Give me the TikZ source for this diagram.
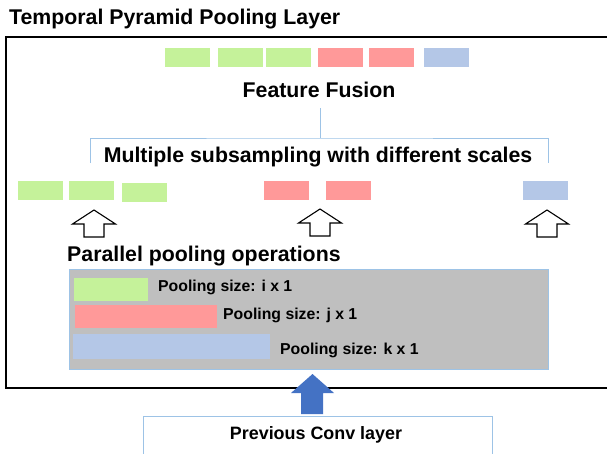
\documentclass[tikz,border=0pt]{standalone}
\usepackage{fontspec}
\setmainfont{Liberation Sans}
\usetikzlibrary{positioning}

\definecolor{poolgreen}{RGB}{197,242,154}
\definecolor{poolred}{RGB}{255,153,153}
\definecolor{poolblue}{RGB}{180,199,231}
\definecolor{linkblue}{RGB}{157,195,230}
\definecolor{arrowblue}{RGB}{68,114,196}
\definecolor{panelgray}{RGB}{191,191,191}

\tikzset{
  bar/.style={inner sep=0pt, minimum width=45pt, minimum height=19pt},
  label/.style={inner sep=0pt, font=\bfseries\fontsize{21.3}{24}\selectfont},
  small/.style={inner sep=0pt, anchor=west, font=\bfseries\fontsize{15.8}{18}\selectfont},
}

\begin{document}
\begin{tikzpicture}[x=1pt, y=-1pt]
        % pixel grid of the reference, y running down
        \useasboundingbox (0,0) rectangle (607,453);

        \node[label, anchor=west] (title) at (9,19.5) {Temporal Pyramid Pooling Layer};
        \draw[line width=1.6pt] (6,37) rectangle (612,388);

        % fused features
        \node[bar, fill=poolgreen] (f1) at (187.5,57.5) {};
        \node[bar, fill=poolgreen] (f2) at (240,57.5) {};
        \node[bar, fill=poolgreen] (f3) at (288,57.5) {};
        \node[bar, fill=poolred] (f4) at (340,57.5) {};
        \node[bar, fill=poolred] (f5) at (391.5,57.5) {};
        \node[bar, fill=poolblue] (f6) at (446.5,57.5) {};
        \node[label] (fusion) at (319,90) {Feature Fusion};

        % bracket
        \coordinate (bl) at (90,163);
        \coordinate (br) at (548,163);
        \coordinate (bm) at (320,138);
        \draw[linkblue, line width=1pt] (320,108) -- (bm);
        \draw[linkblue, line width=1pt] (bl) |- (bm) -| (br);
        \node[label] (multi) at (318,157) {Multiple subsampling with different scales};

        % subsampled features
        \node[bar, fill=poolgreen] (s1) at (40,190) {};
        \node[bar, fill=poolgreen] (s2) at (91,190) {};
        \node[bar, fill=poolgreen] (s3) at (144.5,192) {};
        \node[bar, fill=poolred] (s4) at (286,190) {};
        \node[bar, fill=poolred] (s5) at (348.5,190) {};
        \node[bar, fill=poolblue] (s6) at (545,190) {};

        % hollow arrows
        \foreach \cx/\ty in {94/210, 320/209, 547/210}
          \draw[line width=1.1pt, fill=white] (\cx,\ty) -- (\cx+21.5,\ty+14) -- (\cx+10,\ty+14)
            -- (\cx+10,\ty+27) -- (\cx-10,\ty+27) -- (\cx-10,\ty+14) -- (\cx-21.5,\ty+14) -- cycle;

        \node[label, anchor=west] (parallel) at (67,256) {Parallel pooling operations};

        % pooling panel
        \draw[linkblue, fill=panelgray, line width=0.8pt] (69,269) rectangle (548,369);
        \node[bar, fill=poolgreen, minimum width=74pt, minimum height=23pt, anchor=west] (pi) at (73.5,289) {};
        \node[bar, fill=poolred, minimum width=142pt, minimum height=23pt, anchor=west] (pj) at (75,316.5) {};
        \node[bar, fill=poolblue, minimum width=197pt, minimum height=25pt, anchor=west] (pk) at (73,346.5) {};
        \node[small] (ti) at (158,287) {Pooling size: i x 1};
        \node[small] (tj) at (223,315) {Pooling size: j x 1};
        \node[small] (tk) at (280,350) {Pooling size: k x 1};

        % input
        \draw[linkblue, line width=1pt, fill=white] (143,416) rectangle (492,460);
        \node[inner sep=0pt, font=\bfseries\fontsize{17.9}{20}\selectfont] (conv) at (316,435) {Previous Conv layer};
        \coordinate (tip) at (312.5,374);
        \fill[arrowblue] (tip) -- (334,393) -- (323,393) -- (323,414) -- (301,414) -- (301,393) -- (291,393) -- cycle;

    \end{tikzpicture}
\end{document}
